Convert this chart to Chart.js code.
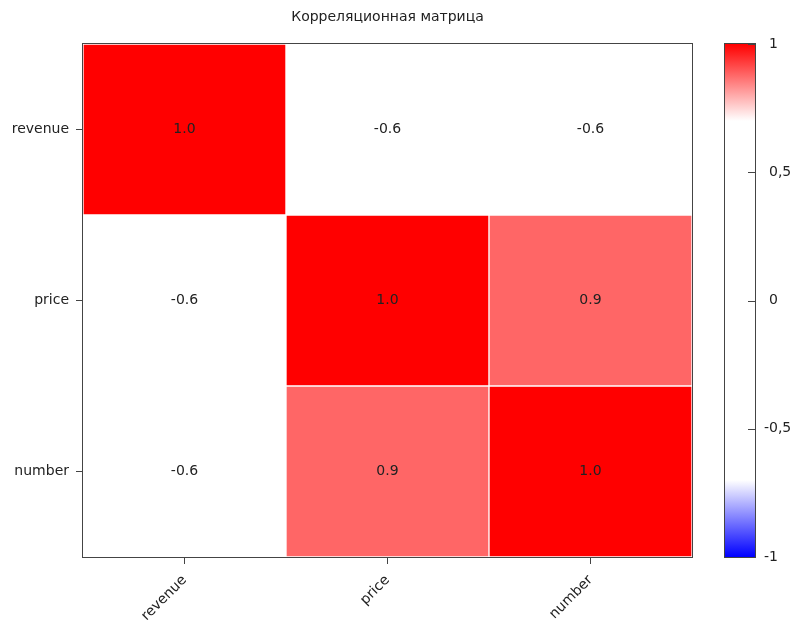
<!DOCTYPE html>
<html>
<head>
<meta charset="utf-8">
<script src="https://cdn.jsdelivr.net/npm/chart.js@4.4.1/dist/chart.umd.min.js"></script>
<style>
  html, body { margin: 0; padding: 0; background: #fff; }
  #wrap { position: relative; width: 796px; height: 620px; }
</style>
</head>
<body>
<div id="wrap"><canvas id="heatmap" width="796" height="620"></canvas></div>
<script>
// Data
const variables = ['revenue', 'price', 'number'];
const corrRevenue = [1.0, -0.6, -0.6];
const corrPrice = [-0.6, 1.0, 0.88];
const corrNumber = [-0.6, 0.88, 1.0];
const colorbarTicks = [-1, -0.5, 0, 0.5, 1];

const corrRows = [corrRevenue, corrPrice, corrNumber];
const FONT = 'DejaVu Sans';
const FSIZE = 14;
const TEXT = '#222';
const FRAME = '#444';

// white in the middle, red / blue only past +-0.7
function corrColor(v) {
    const lim = 0.7;
    if (v >= lim) {
        const f = Math.min(1, (v - lim) / (1 - lim));
        const g = Math.round(255 * (1 - f));
        return `rgb(255, ${g}, ${g})`;
    }
    if (v <= -lim) {
        const f = Math.min(1, (-v - lim) / (1 - lim));
        const g = Math.round(255 * (1 - f));
        return `rgb(${g}, ${g}, 255)`;
    }
    return 'rgb(255, 255, 255)';
}

// one stacked dataset per row, bottom row first
const datasets = variables.map((name, r) => ({
    label: name,
    data: variables.map(() => 1),
    corr: corrRows[r],
    backgroundColor: corrRows[r].map(corrColor),
    borderColor: '#ffffff',
    borderWidth: 1,
    borderSkipped: false,
    barPercentage: 1,
    categoryPercentage: 1
})).reverse();

const cellText = {
    id: 'cellText',
    afterDatasetsDraw(chart) {
        const ctx = chart.ctx;
        ctx.save();
        ctx.font = `${FSIZE}px "${FONT}"`;
        ctx.fillStyle = TEXT;
        ctx.textAlign = 'center';
        ctx.textBaseline = 'middle';
        chart.data.datasets.forEach((ds, i) => {
            chart.getDatasetMeta(i).data.forEach((bar, j) => {
                const p = bar.getCenterPoint();
                ctx.fillText(ds.corr[j].toFixed(1), p.x, p.y);
            });
        });
        ctx.restore();
    }
};

// plot frame + colour bar (drawn on the 'cbar' scale)
const frameAndColorbar = {
    id: 'frameAndColorbar',
    afterDraw(chart) {
        const ctx = chart.ctx;
        const a = chart.chartArea;
        const cb = chart.scales.cbar;
        ctx.save();
        ctx.strokeStyle = FRAME;
        ctx.lineWidth = 1;
        ctx.strokeRect(Math.round(a.left) - 0.5, Math.round(a.top) - 0.5,
            Math.round(a.right - a.left) + 1, Math.round(a.bottom - a.top) + 1);

        const x0 = 725, x1 = 755;
        const yTop = cb.getPixelForValue(1);
        const yBot = cb.getPixelForValue(-1);
        const grad = ctx.createLinearGradient(0, yTop, 0, yBot);
        grad.addColorStop(0, corrColor(1));
        grad.addColorStop(0.15, corrColor(0.7));
        grad.addColorStop(0.85, corrColor(-0.7));
        grad.addColorStop(1, corrColor(-1));
        ctx.fillStyle = grad;
        ctx.fillRect(x0, yTop, x1 - x0, yBot - yTop);
        ctx.strokeRect(x0 - 0.5, Math.round(yTop) - 0.5, x1 - x0 + 1, Math.round(yBot - yTop) + 1);

        ctx.beginPath();
        colorbarTicks.forEach(t => {
            const y = Math.round(cb.getPixelForValue(t)) + 0.5;
            ctx.moveTo(x1 - 7, y);
            ctx.lineTo(x1, y);
        });
        ctx.stroke();

        // tick labels (scale labels would be clipped to the axis box)
        ctx.font = `${FSIZE}px "${FONT}"`;
        ctx.fillStyle = TEXT;
        ctx.textAlign = 'left';
        ctx.textBaseline = 'middle';
        const minusW = ctx.measureText('-').width;
        colorbarTicks.forEach(t => {
            const x = t < 0 ? 769 - minusW : 769;
            ctx.fillText(String(t).replace('.', ','), x, cb.getPixelForValue(t));
        });
        ctx.restore();
    }
};

function noPad(s) {
    s.paddingTop = 0;
    s.paddingBottom = 0;
    s.paddingLeft = 0;
    s.paddingRight = 0;
}

new Chart(document.getElementById('heatmap'), {
    type: 'bar',
    data: { labels: variables, datasets: datasets },
    options: {
        responsive: false,
        animation: false,
        layout: { padding: { left: 0, right: 21, top: 0, bottom: 0 } },
        plugins: {
            legend: { display: false },
            tooltip: { enabled: false },
            title: {
                display: true,
                text: 'Корреляционная матрица',
                color: TEXT,
                font: { family: FONT, size: FSIZE, weight: 'normal', lineHeight: 1.2 },
                padding: { top: 9, bottom: 18.2 }
            }
        },
        scales: {
            x: {
                stacked: true,
                grid: { offset: false, drawOnChartArea: false, tickLength: 7, tickColor: FRAME },
                border: { color: FRAME },
                ticks: {
                    color: TEXT, minRotation: 45, maxRotation: 45, padding: 8,
                    font: { family: FONT, size: FSIZE }
                },
                afterFit(s) { s.height = 63; noPad(s); }
            },
            y: {
                stacked: true,
                min: 0,
                max: 3,
                grid: { drawOnChartArea: false, tickLength: 7, tickColor: FRAME },
                border: { color: FRAME },
                afterBuildTicks(s) {
                    s.ticks = [{ value: 0.5 }, { value: 1.5 }, { value: 2.5 }];
                },
                ticks: {
                    color: TEXT, padding: 7,
                    font: { family: FONT, size: FSIZE },
                    callback: (v) => variables[variables.length - 1 - Math.floor(v)]
                },
                afterFit(s) { s.width = 83; noPad(s); }
            },
            cbar: {
                type: 'linear',
                position: 'right',
                min: -1,
                max: 1,
                grid: { display: false },
                border: { display: false },
                ticks: { display: false },
                afterFit(s) { s.width = 83; noPad(s); }
            }
        }
    },
    plugins: [cellText, frameAndColorbar]
});
</script>
</body>
</html>
